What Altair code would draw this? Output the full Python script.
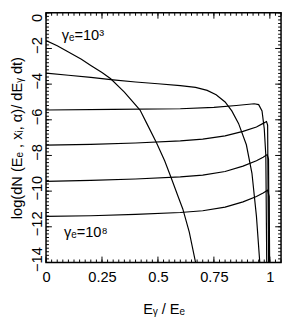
import altair as alt
import pandas as pd

# ---- data ----
x_g3 = [0, 0.05, 0.1, 0.158, 0.2, 0.25, 0.289, 0.35, 0.42, 0.45, 0.494, 0.53, 0.559, 0.59, 0.611, 0.64, 0.668]
y_g3 = [-1.56, -1.85, -2.2, -2.6, -2.95, -3.35, -3.7, -4.45, -5.45, -6.2, -7.3, -8.3, -9.25, -10.3, -11.0, -12.3, -14.0]

x_g4 = [0, 0.1, 0.2, 0.3, 0.4, 0.5, 0.6, 0.668, 0.72, 0.76, 0.8, 0.83, 0.86, 0.895, 0.92, 0.94, 0.955]
y_g4 = [-3.38, -3.5, -3.62, -3.76, -3.88, -3.98, -4.08, -4.18, -4.35, -4.6, -5.0, -5.5, -6.2, -7.4, -9.0, -11.4, -14.0]

x_g5 = [0, 0.3, 0.6, 0.75, 0.85, 0.93, 0.95, 0.965, 0.975, 0.982, 0.986]
y_g5 = [-5.45, -5.42, -5.38, -5.3, -5.2, -5.1, -5.15, -5.5, -6.5, -8.0, -14.0]

x_g6 = [0, 0.2, 0.4, 0.6, 0.7, 0.8, 0.88, 0.94, 0.97, 0.985, 0.99, 0.994]
y_g6 = [-7.42, -7.38, -7.3, -7.18, -7.08, -6.9, -6.65, -6.4, -6.2, -6.1, -6.3, -14.0]

x_g7 = [0, 0.2, 0.4, 0.6, 0.7, 0.8, 0.88, 0.94, 0.97, 0.988, 0.994, 0.997]
y_g7 = [-9.45, -9.4, -9.32, -9.2, -9.1, -8.9, -8.6, -8.3, -8.1, -7.95, -8.2, -14.0]

x_g8 = [0, 0.2, 0.4, 0.6, 0.7, 0.8, 0.88, 0.94, 0.97, 0.99, 0.997, 0.999]
y_g8 = [-11.42, -11.38, -11.3, -11.2, -11.1, -10.9, -10.6, -10.3, -10.1, -9.95, -10.3, -14.0]

curves = [("1e3", x_g3, y_g3), ("1e4", x_g4, y_g4), ("1e5", x_g5, y_g5),
          ("1e6", x_g6, y_g6), ("1e7", x_g7, y_g7), ("1e8", x_g8, y_g8)]

label_texts = ["γₑ=10³", "γₑ=10⁸"]
label_x = [0.07, 0.08]
label_y = [-1.55, -12.55]

x_major = [0, 0.25, 0.5, 0.75, 1.0]
x_minor = [round(i * 0.025, 3) for i in range(43)]
y_major = [0, -2, -4, -6, -8, -10, -12, -14]
y_major_text = ["0", "−2", "−4", "−6", "−8", "−10", "−12", "−14"]
y_minor = [round(-i * 0.2, 2) for i in range(71)]

# ---- build tables ----
rows = []
for g, xs, ys in curves:
    for i, (a, b) in enumerate(zip(xs, ys)):
        rows.append({"g": g, "x": a, "y": b, "o": i})
df = pd.DataFrame(rows)
lab = pd.DataFrame({"t": label_texts, "x": label_x, "y": label_y})
ylab_top = pd.DataFrame({"y": y_major[:1], "t": y_major_text[:1]})
ylab_rest = pd.DataFrame({"y": y_major[1:], "t": y_major_text[1:]})

W, H = 241, 256
FONT = "Liberation Sans, DejaVu Sans, Arial, sans-serif"
xs_ = alt.Scale(domain=[0, 1.05], nice=False, zero=False)
ys_ = alt.Scale(domain=[-14, 0], nice=False, zero=False)

lines = alt.Chart(df).mark_line(color="black", strokeWidth=1.2, clip=True).encode(
    x=alt.X("x:Q", scale=xs_, title="Eᵧ / Eₑ",
            axis=alt.Axis(values=x_major, format=".2~f", labelFlush=False, labelPadding=8,
                          labelOverlap=False, titlePadding=17)),
    y=alt.Y("y:Q", scale=ys_, title="log(dN (Eₑ , xᵢ, α)/ dEᵧ dt)",
            axis=alt.Axis(values=y_major, labels=False, titlePadding=22)),
    detail="g:N",
    order="o:Q",
)

texts = alt.Chart(lab).mark_text(align="left", baseline="alphabetic", fontSize=15,
                                  font=FONT, color="black").encode(
    x=alt.X("x:Q", scale=xs_), y=alt.Y("y:Q", scale=ys_), text="t:N")

ytexts = alt.Chart(ylab_rest).mark_text(angle=270, align="center", baseline="alphabetic",
                                        fontSize=15, font=FONT, color="black", dx=3).encode(
    x=alt.value(-4), y=alt.Y("y:Q", scale=ys_), text="t:N")
ytext0 = alt.Chart(ylab_top).mark_text(angle=270, align="right", baseline="alphabetic",
                                       fontSize=15, font=FONT, color="black", dx=-1).encode(
    x=alt.value(-4), y=alt.Y("y:Q", scale=ys_), text="t:N")

def xticks(vals, length, top):
    d = pd.DataFrame({"x": vals})
    y1 = 0 if top else H
    y2 = length if top else H - length
    return alt.Chart(d).mark_rule(color="black", strokeWidth=1).encode(
        x=alt.X("x:Q", scale=xs_), y=alt.value(y1), y2=alt.value(y2))

def yticks(vals, length, right):
    d = pd.DataFrame({"y": vals})
    x1 = W if right else 0
    x2 = W - length if right else length
    return alt.Chart(d).mark_rule(color="black", strokeWidth=1).encode(
        y=alt.Y("y:Q", scale=ys_), x=alt.value(x1), x2=alt.value(x2))

chart = alt.layer(
    lines, texts, ytexts, ytext0,
    xticks(x_minor, 3, False), xticks(x_major, 6, False),
    xticks(x_minor, 3, True), xticks(x_major, 6, True),
    yticks(y_minor, 3, False), yticks(y_major, 6, False),
    yticks(y_minor, 3, True), yticks(y_major, 6, True),
).properties(
    width=W, height=H,
    autosize=alt.AutoSizeParams(type="none"),
    padding={"left": 39, "top": 1, "right": 2, "bottom": 52},
).configure_view(
    stroke="black", strokeWidth=1.5
).configure_axis(
    grid=False, ticks=False, domain=False, labelOverlap=False, labelBound=False,
    labelFont=FONT, labelFontSize=15, labelColor="black",
    titleFont=FONT, titleFontSize=15, titleFontWeight="normal", titleColor="black",
)

chart.save("out.html", embed_options={"renderer": "svg", "actions": False})
